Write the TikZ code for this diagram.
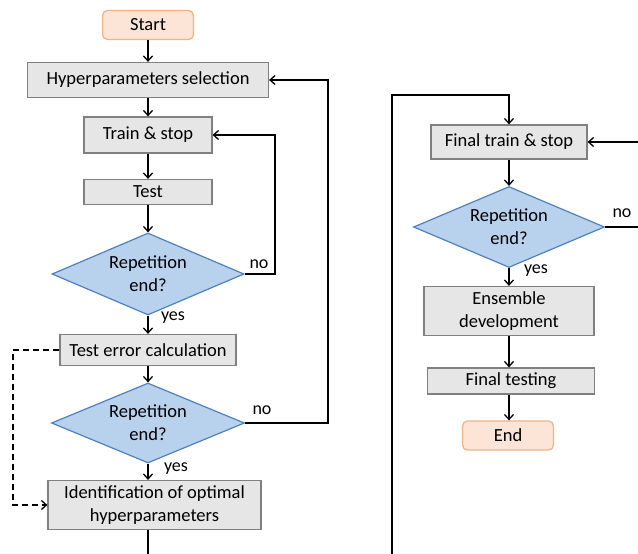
\documentclass[tikz,border=0pt]{standalone}
\usepackage{fontspec}
\setmainfont{Carlito}
\usetikzlibrary{shapes.geometric,arrows.meta}
\definecolor{boxfill}{HTML}{E6E6E6}
\definecolor{boxline}{HTML}{808080}
\definecolor{decfill}{HTML}{B8D1EC}
\definecolor{decline}{HTML}{4F81BD}
\definecolor{termfill}{HTML}{FCE4D6}
\definecolor{termline}{HTML}{F4B183}
\begin{document}
\begin{tikzpicture}[x=1pt,y=-1pt,
  every node/.style={font=\fontsize{18.5}{23}\selectfont, inner sep=0pt, align=center},
  proc/.style={rectangle, draw=boxline, fill=boxfill, line width=1.2pt},
  term/.style={rectangle, rounded corners=5pt, draw=termline, fill=termfill, line width=1.2pt},
  decision/.style={diamond, aspect=2.34, draw=decline, fill=decfill, line width=1.2pt},
  link/.style={line width=1.3pt, black},
  arr/.style={link, -{Straight Barb[length=5pt,width=9pt]}},
  lbl/.style={font=\fontsize{18}{20}\selectfont}]
\useasboundingbox (0,0) rectangle (638,554);

% left column
\node[term, minimum width=91pt, minimum height=29pt] (start) at (148,25) {Start};
\node[proc, minimum width=241pt, minimum height=35pt] (hyp) at (148,80) {Hyperparameters selection};
\node[proc, minimum width=128pt, minimum height=36pt] (train) at (148,135) {Train \& stop};
\node[proc, minimum width=128pt, minimum height=25pt] (test) at (148,192) {Test};
\node[decision, minimum width=192pt, minimum height=82pt] (rep1) at (148,274) {Repetition\\end?};
\node[proc, minimum width=176pt, minimum height=31pt] (err) at (148,350) {Test error calculation};
\node[decision, minimum width=193pt, minimum height=80pt] (rep2) at (148,423) {Repetition\\end?};
\node[proc, minimum width=213pt, minimum height=49pt] (ident) at (154.5,505) {Identification of optimal\\hyperparameters};

% right column
\node[proc, minimum width=156pt, minimum height=34pt] (ftrain) at (509,142) {Final train \& stop};
\node[decision, minimum width=191pt, minimum height=81pt] (rep3) at (509,227) {Repetition\\end?};
\node[proc, minimum width=170pt, minimum height=49pt] (ens) at (509,311) {Ensemble\\development};
\node[proc, minimum width=167pt, minimum height=26pt] (ftest) at (511,381) {Final testing};
\node[term, minimum width=91pt, minimum height=29pt] (fin) at (508,435.5) {End};

% branch labels
\node[lbl] (no1) at (259,264) {no};
\node[lbl] (yes1) at (173,318) {yes};
\node[lbl] (no2) at (262,410) {no};
\node[lbl] (yes2) at (176,469) {yes};
\node[lbl] (no3) at (622,213) {no};
\node[lbl] (yes3) at (536,271) {yes};

% helper coordinates for the loop-back routes
\coordinate (k1) at (275,0);
\coordinate (k2) at (328,0);
\coordinate (k3) at (13,0);
\coordinate (b1) at (148,554);
\coordinate (b2) at (392,554);
\coordinate (t2) at (392,95);
\coordinate (r1) at (638,142);
\coordinate (r2) at (638,0);

% main flow, left
\draw[arr] (start) -- (hyp);
\draw[arr] (hyp) -- (train);
\draw[arr] (train) -- (test);
\draw[arr] (test) -- (rep1);
\draw[arr] (rep1) -- (err);
\draw[arr] (err) -- (rep2);
\draw[arr] (rep2.south) -- (rep2.south |- ident.north);

% loops, left
\draw[arr] (rep1.east) -- (rep1.east -| k1) |- (train.east);
\draw[arr] (rep2.east) -- (rep2.east -| k2) |- (hyp.east);
\draw[link, dashed, dash pattern=on 6pt off 4pt, -{Straight Barb[length=5pt,width=9pt]}]
  (err.west) -- (err.west -| k3) |- (ident.west);

% connection to the right column
\draw[link] (b1 |- ident.south) -- (b1);
\draw[arr] (b2) -- (t2) -| (ftrain.north);

% main flow, right
\draw[arr] (ftrain) -- (rep3);
\draw[arr] (rep3) -- (ens);
\draw[arr] (ens.south) -- (ens.south |- ftest.north);
\draw[arr] (ftest.south -| ens.south) -- (ens.south |- fin.north);

% loop, right
\draw[link] (rep3.east) -- (rep3.east -| r2);
\draw[arr] (r1) -- (ftrain.east);
\end{tikzpicture}
\end{document}
